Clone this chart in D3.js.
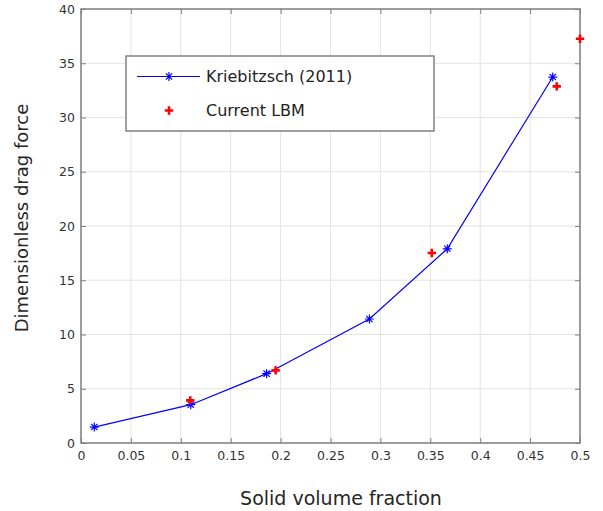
<!DOCTYPE html>
<html>
<head>
<meta charset="utf-8">
<script src="https://cdn.jsdelivr.net/npm/d3@7"></script>
<style>
  body { margin: 0; background: #fff; }
  text { font-family: "DejaVu Sans", sans-serif; }
</style>
</head>
<body>
<svg id="chart" width="603" height="511"></svg>
<script>
// Kriebitzsch (2011) correlation
const krX = [0.0133, 0.110, 0.186, 0.289, 0.367, 0.4727];
const krY = [1.47, 3.53, 6.39, 11.43, 17.9, 33.73];
// current LBM results
const lbmX = [0.1095, 0.195, 0.3515, 0.4767, 0.5];
const lbmY = [3.93, 6.69, 17.51, 32.87, 37.26];

const xTicks = [0, 0.05, 0.1, 0.15, 0.2, 0.25, 0.3, 0.35, 0.4, 0.45, 0.5];
const yTicks = [0, 5, 10, 15, 20, 25, 30, 35, 40];

const svg = d3.select("#chart"),
  margin = {top: 9, right: 23, bottom: 68, left: 81},
  width = +svg.attr("width") - margin.left - margin.right,
  height = +svg.attr("height") - margin.top - margin.bottom,
  g = svg.append("g").attr("transform", "translate(" + margin.left + "," + margin.top + ")");

const x = d3.scaleLinear().domain([0, 0.5]).range([0, width]);
const y = d3.scaleLinear().domain([0, 40]).range([height, 0]);

// grid
g.append("g")
  .selectAll("line.gx")
  .data(xTicks)
  .join("line")
  .attr("x1", d => x(d)).attr("x2", d => x(d))
  .attr("y1", 0).attr("y2", height)
  .attr("stroke", "#e3e3e3");
g.append("g")
  .selectAll("line.gy")
  .data(yTicks)
  .join("line")
  .attr("x1", 0).attr("x2", width)
  .attr("y1", d => y(d)).attr("y2", d => y(d))
  .attr("stroke", "#e3e3e3");

// axes, ticks inside like matlab
const axColor = "#808080";
function styleAxis(sel) {
  sel.select(".domain").remove();
  sel.selectAll(".tick line").attr("stroke", axColor);
  sel.selectAll(".tick text").attr("fill", "#333").attr("font-size", 12.5)
    .attr("font-family", "DejaVu Sans, sans-serif");
}
g.append("g")
  .attr("transform", "translate(0," + height + ")")
  .call(d3.axisBottom(x).tickValues(xTicks).tickFormat(d3.format("")).tickSizeInner(-5).tickPadding(8))
  .call(styleAxis);
g.append("g")
  .call(d3.axisTop(x).tickValues(xTicks).tickFormat("").tickSizeInner(-5))
  .call(styleAxis);
g.append("g")
  .call(d3.axisLeft(y).tickValues(yTicks).tickSizeInner(-5).tickPadding(6))
  .call(styleAxis);
g.append("g")
  .attr("transform", "translate(" + width + ",0)")
  .call(d3.axisRight(y).tickValues(yTicks).tickFormat("").tickSizeInner(-5))
  .call(styleAxis);

g.append("rect")
  .attr("width", width).attr("height", height)
  .attr("fill", "none").attr("stroke", axColor).attr("stroke-width", 1.5);

// Kriebitzsch line
const kr = krX.map((v, i) => ({x: v, y: krY[i]}));
const lbm = lbmX.map((v, i) => ({x: v, y: lbmY[i]}));

const line = d3.line().x(d => x(d.x)).y(d => y(d.y));
g.append("path")
  .datum(kr)
  .attr("fill", "none")
  .attr("stroke", "#0000ff")
  .attr("stroke-width", 1.2)
  .attr("d", line);

function asterisk(sel, r) {
  sel.append("path")
    .attr("d", `M${-r},0H${r}M0,${-r}V${r}M${-r*0.7},${-r*0.7}L${r*0.7},${r*0.7}M${-r*0.7},${r*0.7}L${r*0.7},${-r*0.7}`)
    .attr("stroke", "#0000ff").attr("stroke-width", 1.2).attr("fill", "none");
}
function plus(sel, r) {
  sel.append("path")
    .attr("d", `M${-r},0H${r}M0,${-r}V${r}`)
    .attr("stroke", "#ff0000").attr("stroke-width", 2.6).attr("fill", "none");
}

g.append("g").selectAll("g")
  .data(kr)
  .join("g")
  .attr("transform", d => "translate(" + x(d.x) + "," + y(d.y) + ")")
  .each(function() { asterisk(d3.select(this), 4.5); });

g.append("g").selectAll("g")
  .data(lbm)
  .join("g")
  .attr("transform", d => "translate(" + x(d.x) + "," + y(d.y) + ")")
  .each(function() { plus(d3.select(this), 4.2); });

// legend
const leg = svg.append("g").attr("transform", "translate(126,56)");
leg.append("rect")
  .attr("width", 308).attr("height", 75)
  .attr("fill", "#fff").attr("stroke", axColor).attr("stroke-width", 1.5);
leg.append("line")
  .attr("x1", 11).attr("x2", 74).attr("y1", 20.5).attr("y2", 20.5)
  .attr("stroke", "#0000ff").attr("stroke-width", 1.2);
asterisk(leg.append("g").attr("transform", "translate(43,20.5)"), 4.5);
plus(leg.append("g").attr("transform", "translate(43,54.5)"), 4.2);
leg.append("text").attr("x", 80).attr("y", 26)
  .attr("font-size", 16).attr("fill", "#222").text("Kriebitzsch (2011)");
leg.append("text").attr("x", 80).attr("y", 60)
  .attr("font-size", 16).attr("fill", "#222").text("Current LBM");

// axis labels
svg.append("text")
  .attr("x", 341).attr("y", 505)
  .attr("text-anchor", "middle").attr("font-size", 19).attr("fill", "#262626")
  .text("Solid volume fraction");
svg.append("text")
  .attr("transform", "translate(28,218) rotate(-90)")
  .attr("text-anchor", "middle").attr("font-size", 18).attr("fill", "#262626")
  .text("Dimensionless drag force");
</script>
</body>
</html>
